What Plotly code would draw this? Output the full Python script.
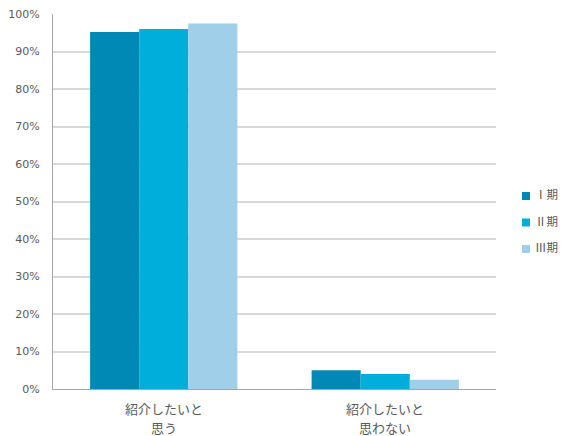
import plotly.graph_objects as go

categories = ["紹介したいと<br>思う", "紹介したいと<br>思わない"]
series_names = ["Ⅰ期", "Ⅱ期", "Ⅲ期"]
period1 = [95.2, 5.0]
period2 = [96.0, 4.0]
period3 = [97.5, 2.5]
colors = ["#0089b5", "#00aedb", "#a0cfea"]
y_ticks = list(range(0, 101, 10))
y_tick_labels = [f"{v}%" for v in y_ticks]

W, H = 566, 436
L, R, T, B = 53, 70, 14, 47
plot_w, plot_h = W - L - R, H - T - B
text_color = "#595959"
cjk_font = "Noto Sans CJK JP, sans-serif"

fig = go.Figure()
for i, (name, vals) in enumerate(zip(series_names, [period1, period2, period3])):
    fig.add_trace(go.Bar(
        x=categories, y=vals, name=name, showlegend=False,
        marker=dict(color=colors[i], line=dict(width=0)),
    ))

# category labels drawn line by line for wider line spacing
for cat in categories:
    for j, line in enumerate(cat.split("<br>")):
        fig.add_annotation(
            x=cat, y=0, xref="x", yref="paper", yanchor="middle",
            yshift=-19 - 19 * j, text=line, showarrow=False,
            font=dict(family=cjk_font, size=13, color=text_color),
        )

# compact legend: small square key + label per series
key_x = (526 - L) / plot_w
text_x = (533 - L) / plot_w
half_w = 4 / plot_w
half_h = 4 / plot_h
for i, name in enumerate(series_names):
    yc = (H - B - (196 + 26.5 * i)) / plot_h
    fig.add_shape(
        type="rect", xref="paper", yref="paper",
        x0=key_x - half_w, x1=key_x + half_w,
        y0=yc - half_h, y1=yc + half_h,
        fillcolor=colors[i], line=dict(width=0),
    )
    fig.add_annotation(
        x=text_x, y=yc, xref="paper", yref="paper",
        xanchor="left", yanchor="middle", text=name, showarrow=False,
        font=dict(family=cjk_font, size=11.5, color=text_color), yshift=2,
    )

fig.update_layout(
    width=W, height=H,
    margin=dict(l=L, r=R, t=T, b=B, autoexpand=False),
    paper_bgcolor="white", plot_bgcolor="white",
    barmode="group", bargap=0.335, bargroupgap=0,
    font=dict(family=cjk_font, size=10, color=text_color),
    showlegend=False,
    xaxis=dict(
        showline=True, linecolor="#a6a6a6", linewidth=1,
        ticks="", showticklabels=False,
    ),
    yaxis=dict(
        range=[0, 100], tickvals=y_ticks, ticktext=y_tick_labels,
        showgrid=True, gridcolor="#d9d9d9", gridwidth=1.5,
        showline=True, linecolor="#a6a6a6", linewidth=1,
        ticks="", zeroline=False, ticklabelstandoff=10,
        tickfont=dict(family="DejaVu Sans", size=11, color=text_color),
    ),
)

fig.write_html("out.html")
